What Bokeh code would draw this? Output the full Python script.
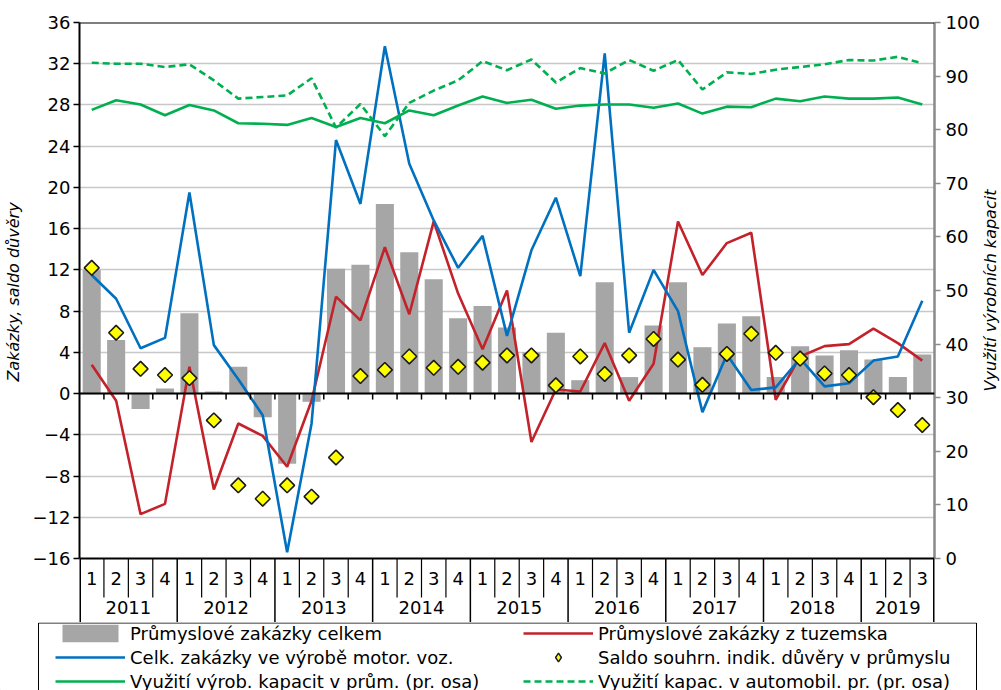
import numpy as np
from bokeh.plotting import figure
from bokeh.layouts import column, row
from bokeh.models import Range1d, LinearAxis, FixedTicker, Span, Legend, LegendItem
from bokeh.embed import file_html
from bokeh.resources import INLINE
from bokeh.core.properties import value

# ---------------- data ----------------
years = ["2011", "2012", "2013", "2014", "2015", "2016", "2017", "2018", "2019"]
quarters = ["1", "2", "3", "4"] * 8 + ["1", "2", "3"]
quarter_year = [y for y in years[:-1] for _ in range(4)] + ["2019"] * 3

# Průmyslové zakázky celkem (bars, left axis)
celkem = [12.0, 5.2, -1.5, 0.5, 7.8, 0.2, 2.6, -2.3, -6.8, -0.8, 12.1, 12.5,
          18.4, 13.7, 11.1, 7.3, 8.5, 6.4, 4.0, 5.9, 1.3, 10.8, 1.6, 6.6,
          10.8, 4.5, 6.8, 7.5, 1.6, 4.6, 3.7, 4.2, 3.3, 1.6, 3.8]
# Průmyslové zakázky z tuzemska (red line)
tuzemsko = [2.8, -0.7, -11.7, -10.7, 2.6, -9.3, -2.9, -4.1, -7.1, -0.7, 9.4, 7.1,
            14.2, 7.7, 16.7, 9.7, 4.3, 10.0, -4.7, 0.4, 0.2, 4.9, -0.7, 2.9,
            16.7, 11.5, 14.6, 15.6, -0.6, 3.6, 4.6, 4.8, 6.3, 4.9, 3.2]
# Celk. zakázky ve výrobě motor. voz. (blue line)
motor = [11.5, 9.2, 4.4, 5.4, 19.5, 4.7, 1.4, -2.1, -15.4, -2.9, 24.6, 18.4,
         33.7, 22.3, 16.8, 12.2, 15.3, 5.6, 13.9, 19.0, 11.4, 33.0, 5.9, 12.0,
         8.0, -1.8, 3.8, 0.35, 0.6, 3.4, 0.7, 1.0, 3.2, 3.6, 9.0]
# Saldo souhrn. indik. důvěry v průmyslu (diamonds)
saldo = [12.2, 5.9, 2.4, 1.8, 1.5, -2.6, -8.9, -10.2, -8.9, -10.0, -6.2, 1.7,
         2.3, 3.6, 2.5, 2.6, 3.0, 3.7, 3.7, 0.8, 3.6, 1.9, 3.7, 5.3,
         3.3, 0.85, 3.85, 5.8, 3.95, 3.4, 1.95, 1.8, -0.35, -1.6, -3.05]
# Využití výrob. kapacit v prům. (right axis, solid green)
vyuziti = [83.7, 85.5, 84.7, 82.7, 84.6, 83.6, 81.2, 81.1, 80.9, 82.2, 80.5, 82.2,
           81.2, 83.6, 82.7, 84.5, 86.2, 85.0, 85.6, 83.9, 84.5, 84.7, 84.7, 84.1,
           84.9, 83.0, 84.3, 84.2, 85.8, 85.3, 86.2, 85.8, 85.8, 86.0, 84.7]
# Využití kapac. v automobil. pr. (right axis, dashed green)
auto = [92.5, 92.3, 92.3, 91.7, 92.2, 89.2, 85.8, 86.1, 86.4, 89.6, 80.4, 84.8,
        78.8, 85.0, 87.3, 89.2, 92.8, 91.1, 93.1, 88.8, 91.5, 90.5, 93.0, 91.0,
        93.0, 87.5, 90.7, 90.4, 91.2, 91.7, 92.2, 93.0, 92.9, 93.6, 92.4]

left_ticks = list(range(-16, 37, 4))
right_ticks = list(range(0, 101, 10))

left_title = "Zakázky, saldo důvěry"
right_title = "Využití výrobních kapacit"
labels = {
    "celkem": "Průmyslové zakázky celkem",
    "tuzemsko": "Průmyslové zakázky z tuzemska",
    "motor": "Celk. zakázky ve výrobě motor. voz.",
    "saldo": "Saldo souhrn. indik. důvěry v průmyslu",
    "vyuziti": "Využití výrob. kapacit v prům. (pr. osa)",
    "auto": "Využití kapac. v automobil. pr. (pr. osa)",
}

# ---------------- styles ----------------
FONT = "DejaVu Sans"
BAR = dict(fill_color="#a6a6a6", line_color=None)
RED = dict(line_color="#c3222b", line_width=2.6)
BLUE = dict(line_color="#0070c0", line_width=2.6)
GREEN = dict(line_color="#00b050", line_width=2.6)
DASH = dict(line_color="#00b050", line_width=2.6, line_dash="7 4")
DIA = dict(marker="square", angle=np.pi / 4, size=10.5, fill_color="#ffff00",
           line_color="#1a1a1a", line_width=1.6)
DIA_KEY = dict(marker="diamond", size=14, fill_color="#ffff00",
               line_color="#1a1a1a", line_width=1.4)

# ---------------- geometry ----------------
W = 1000
TW = 18                 # strip holding the right axis title
PW = W - TW
n = len(quarters)
x = list(range(n))
LEFT_MIN, LEFT_MAX = -16, 36
FRAME_H = 600           # frame incl. category table
PLOT_H = 536            # part of the frame used by the value axis
PH = 622
ppu = PLOT_H / (LEFT_MAX - LEFT_MIN)
Y0 = LEFT_MIN - (FRAME_H - PLOT_H) / ppu
R0 = (Y0 - LEFT_MIN) * 100 / (LEFT_MAX - LEFT_MIN)
NB = "\u00a0"

p = figure(width=PW, height=PH, output_backend="svg", toolbar_location=None,
           x_range=Range1d(-0.5, n - 0.5), y_range=Range1d(Y0, LEFT_MAX),
           x_axis_location=None,
           min_border_left=72, min_border_right=PW - 937, min_border_top=22, min_border_bottom=0)
p.outline_line_color = None
p.extra_y_ranges = {"right": Range1d(R0, 100)}

# left axis
ya = p.yaxis[0]
ya.ticker = FixedTicker(ticks=left_ticks)
ya.bounds = (LEFT_MIN, LEFT_MAX)
ya.axis_label = NB * 12 + left_title
ya.axis_label_text_font = FONT
ya.axis_label_text_font_style = "italic"
ya.axis_label_text_font_size = "16px"
ya.axis_label_text_color = "black"
ya.axis_label_standoff = 7
ya.major_label_text_font = FONT
ya.major_label_text_font_size = "18px"
ya.major_label_text_color = "black"
ya.axis_line_color = "black"
ya.axis_line_width = 2
ya.major_tick_line_color = "black"
ya.major_tick_line_width = 1.5
ya.major_tick_out = 6
ya.major_tick_in = 0
ya.minor_tick_line_color = None
ya.major_label_standoff = 3

# right axis
ra = LinearAxis(y_range_name="right", ticker=FixedTicker(ticks=right_ticks), bounds=(0, 100))
ra.major_label_text_font = FONT
ra.major_label_text_font_size = "18px"
ra.major_label_text_color = "black"
ra.axis_line_color = "#8a8a8a"
ra.axis_line_width = 2.5
ra.major_tick_line_color = "#8a8a8a"
ra.major_tick_line_width = 1.5
ra.major_tick_out = 6
ra.major_tick_in = 0
ra.minor_tick_line_color = None
ra.major_label_standoff = 5
p.add_layout(ra, "right")

p.xgrid.visible = False
p.ygrid.ticker = FixedTicker(ticks=[t for t in left_ticks if -16 < t < 36])
p.ygrid.grid_line_color = "#c8c8c8"
p.ygrid.grid_line_width = 1.5

# ---------------- series ----------------
p.vbar(x=x, top=celkem, bottom=0, width=0.74, **BAR)
p.line(x, tuzemsko, **RED)
p.line(x, motor, **BLUE)
p.line(x, vyuziti, y_range_name="right", **GREEN)
p.line(x, auto, y_range_name="right", **DASH)
p.scatter(x, saldo, **DIA)

# borders / zero axis
for loc in (0, LEFT_MIN, LEFT_MAX):
    p.add_layout(Span(location=loc, dimension="width", line_color="black", line_width=2))

bounds_x = [i - 0.5 for i in range(1, n)]
tick_len = 6 / ppu
p.segment(x0=bounds_x, y0=[0] * len(bounds_x), x1=bounds_x, y1=[-tick_len] * len(bounds_x),
          line_color="black", line_width=1.5)

# ---------------- category table ----------------
year_b = [i - 0.5 for i in range(1, n) if quarter_year[i] != quarter_year[i - 1]]
q_b = [b for b in bounds_x if b not in year_b]
q_row_bottom = LEFT_MIN - 39 / ppu
p.segment(x0=q_b, y0=[LEFT_MIN] * len(q_b), x1=q_b, y1=[q_row_bottom] * len(q_b),
          line_color="black", line_width=1.2)
p.segment(x0=year_b, y0=[LEFT_MIN] * len(year_b), x1=year_b, y1=[Y0] * len(year_b),
          line_color="black", line_width=1.5)
outer = [-0.5, n - 0.5]
p.segment(x0=outer, y0=[LEFT_MIN] * 2, x1=outer, y1=[Y0] * 2, line_color="black", line_width=3)

p.text(x=x, y=[LEFT_MIN - 20 / ppu] * n, text=quarters, text_align="center",
       text_baseline="middle", text_font=value(FONT), text_font_size="18px", text_color="black")
year_x = [float(np.mean([i for i in x if quarter_year[i] == y])) for y in years]
p.text(x=year_x, y=[LEFT_MIN - 49 / ppu] * len(years), text=years, text_align="center",
       text_baseline="middle", text_font=value(FONT), text_font_size="18px", text_color="black")

# ---------------- right axis title strip ----------------
t = figure(width=TW, height=PH, output_backend="svg", toolbar_location=None,
           x_range=Range1d(0, TW), y_range=Range1d(0, PH),
           x_axis_location=None, y_axis_location=None,
           min_border_left=0, min_border_right=0, min_border_top=0, min_border_bottom=0)
t.outline_line_color = None
t.grid.visible = False
t.text(x=[TW / 2 - 1], y=[PH - 290], text=[right_title], angle=np.pi / 2,
       text_align="center", text_baseline="middle", text_font=value(FONT),
       text_font_style="italic", text_font_size="16px", text_color="black")

# ---------------- legend (separate strip below) ----------------
LH = 68
q = figure(width=W, height=LH, output_backend="svg", toolbar_location=None,
           x_range=Range1d(0, W), y_range=Range1d(0, LH),
           x_axis_location=None, y_axis_location=None,
           min_border_left=0, min_border_right=0, min_border_top=0, min_border_bottom=0)
for fig in (p, q, t):
    if "frame_align" in fig.properties():
        fig.frame_align = False
q.outline_line_color = None
q.grid.visible = False
q.quad(left=[38], right=[976], top=[LH - 0.5], bottom=[-20], fill_color="white",
       line_color="black", line_width=1)

off = [-1000]
r_bar = q.vbar(x=off, top=[1], bottom=0, width=1, **BAR)
r_red = q.line(off, [1], **RED)
r_blue = q.line(off, [1], **BLUE)
r_green = q.line(off, [1], **GREEN)
r_dash = q.line(off, [1], **DASH)
r_dia = q.scatter(off, [1], **DIA_KEY)

legend = Legend(items=[
    LegendItem(label=labels["celkem"], renderers=[r_bar]),
    LegendItem(label=labels["motor"], renderers=[r_blue]),
    LegendItem(label=labels["vyuziti"], renderers=[r_green]),
    LegendItem(label=labels["tuzemsko"], renderers=[r_red]),
    LegendItem(label=labels["saldo"], renderers=[r_dia]),
    LegendItem(label=labels["auto"], renderers=[r_dash]),
], ncols=2, orientation="vertical")
legend.label_text_font = FONT
legend.label_text_font_size = "18px"
legend.label_text_color = "black"
legend.border_line_color = None
legend.background_fill_alpha = 0
legend.padding = 0
legend.spacing = 2
legend.margin = 0
legend.glyph_width = 70
legend.glyph_height = 22
legend.label_height = 22
legend.label_standoff = 5
legend.label_width = 391
leg_h = 3 * 22 + 2 * 2
legend.location = (55, LH - leg_h)
q.add_layout(legend, "center")

layout = column(row(p, t, spacing=0), q, spacing=0)
open("out.html", "w").write(file_html(layout, INLINE))
